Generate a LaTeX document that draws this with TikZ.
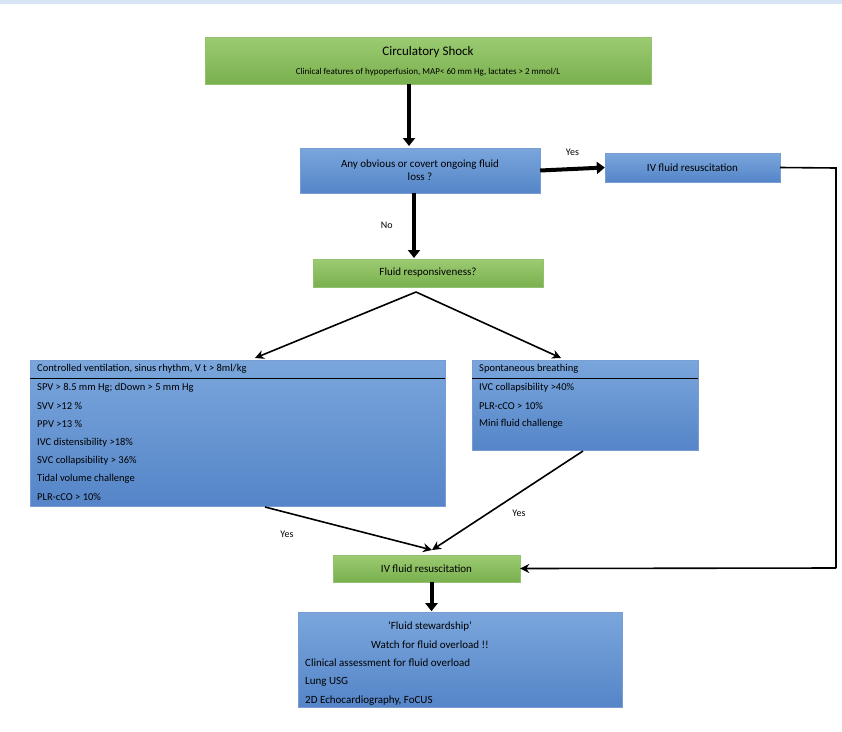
\documentclass[tikz,border=0pt]{standalone}
\usepackage{fontspec}
\setmainfont{Carlito}
\usetikzlibrary{arrows.meta}
\definecolor{bluetop}{HTML}{7AA6DC}
\definecolor{bluebot}{HTML}{5585C8}
\definecolor{greentop}{HTML}{9CCB72}
\definecolor{greenbot}{HTML}{79B04E}
\tikzset{
 bbox/.style={top color=bluetop,bottom color=bluebot,draw=bluebot!80!white,inner sep=0pt},
 gbox/.style={top color=greentop,bottom color=greenbot,draw=greenbot!80!white,inner sep=0pt},
 thick arr/.style={line width=4pt,-{Triangle[length=8pt,width=12pt]}},
 arr/.style={line width=1.6pt,-{Stealth[length=9pt,width=9pt]}},
 lbl/.style={font=\fontsize{10}{12}\selectfont},
 txt/.style={font=\fontsize{10.5}{12}\selectfont,anchor=west,inner sep=0pt}
}
\begin{document}
\begin{tikzpicture}[x=1pt,y=-1pt]
\useasboundingbox (0,0) rectangle (842,731);
\fill[bluetop!30] (0,0) rectangle (842,4);
% boxes
\node[gbox,minimum width=446pt,minimum height=47pt] (shock) at (428,60.5) {};
\node[font=\fontsize{13}{15}\selectfont] at (428,52) {Circulatory Shock};
\node[font=\fontsize{9}{11}\selectfont] at (428,72) {Clinical features of hypoperfusion, MAP< 60 mm Hg, lactates > 2 mmol/L};
\node[bbox,minimum width=240pt,minimum height=45pt,align=center,font=\fontsize{11}{13}\selectfont] (loss) at (420,170.5) {Any obvious or covert ongoing fluid\\loss ?};
\node[bbox,minimum width=175pt,minimum height=29pt,font=\fontsize{11}{13}\selectfont] (ivtop) at (692.5,167.5) {IV fluid resuscitation};
\node[gbox,minimum width=230pt,minimum height=28pt,font=\fontsize{11}{13}\selectfont] (resp) at (428,273) {Fluid responsiveness?};
\node[bbox,minimum width=415pt,minimum height=146pt] (ctrl) at (237.5,433) {};
\draw[line width=1pt] (30,378) -- (445,378);
\node[txt] at (37,369) {Controlled ventilation, sinus rhythm, V t > 8ml/kg};
\foreach \t [count=\i] in {SPV > 8.5 mm Hg; dDown > 5 mm Hg,SVV >12 \%,PPV >13 \%,IVC distensibility >18\%,SVC collapsibility > 36\%,Tidal volume challenge,PLR-cCO > 10\%}
  \node[txt] at (37,369+\i*18.3) {\t};
\node[bbox,minimum width=226pt,minimum height=90pt] (spon) at (585,405) {};
\draw[line width=1pt] (472,378) -- (698,378);
\node[txt] at (479,369) {Spontaneous breathing};
\foreach \t [count=\i] in {IVC collapsibility >40\%,PLR-cCO > 10\%,Mini fluid challenge}
  \node[txt] at (479,369+\i*18.3) {\t};
\node[gbox,minimum width=187pt,minimum height=27pt,font=\fontsize{11}{13}\selectfont] (ivbot) at (426.5,568.5) {IV fluid resuscitation};
\node[bbox,minimum width=324pt,minimum height=95pt] (final) at (460,659.5) {};
\node[font=\fontsize{11}{13}\selectfont] at (430,626) {‘Fluid stewardship’};
\node[font=\fontsize{11}{13}\selectfont] at (430,645) {Watch for fluid overload !!};
\foreach \t [count=\i] in {Clinical assessment for fluid overload,Lung USG,2D Echocardiography{,} FoCUS}
  \node[txt,font=\fontsize{11}{13}\selectfont] at (305,644+\i*19) {\t};
% connectors
\coordinate (ra) at (836,168);
\coordinate (rb) at (836,568);
\coordinate (m) at (432,550);
\draw[thick arr] (409,84) -- (409,146);
\draw[thick arr] (loss.east) -- (ivtop.west) node[midway,above=8pt,lbl] {Yes};
\draw[thick arr] (414,193) -- (414,258) node[midway,left=16pt,lbl] {No};
\draw[arr] (416,292) -- (255,358);
\draw[arr] (416,292) -- (561,358);
\draw[line width=1.6pt] (ivtop.east) -- (ra) -- (rb);
\draw[arr] (rb) -- (ivbot.east);
\draw[arr] (265,507) -- (m);
\draw[arr] (583,451) -- (m);
\node[lbl] at (287,534) {Yes};
\node[lbl] at (519,513) {Yes};
\draw[thick arr] (ivbot.south) ++(5,0) -- ++(0,29);
\end{tikzpicture}
\end{document}
